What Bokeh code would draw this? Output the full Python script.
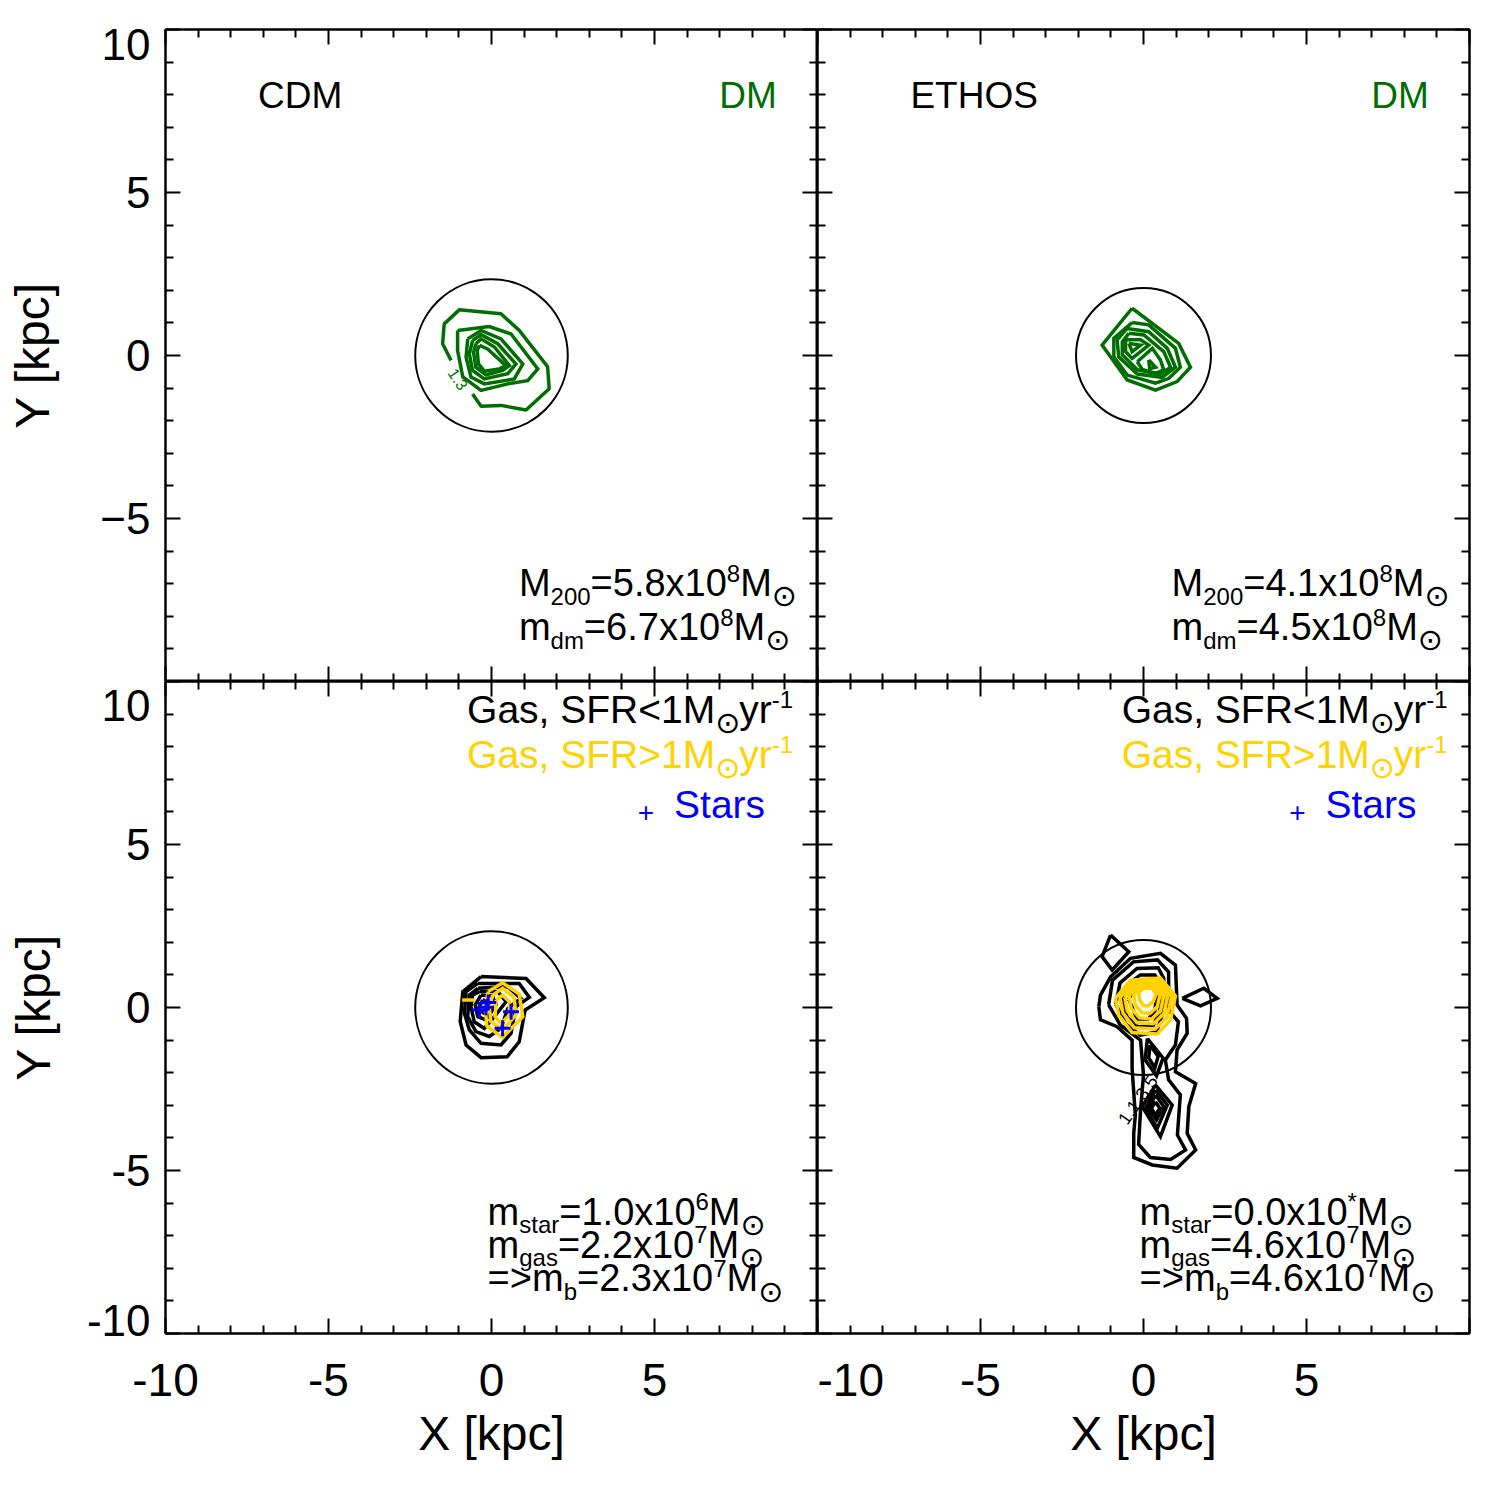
from bokeh.plotting import figure
from bokeh.layouts import gridplot
from bokeh.models import LinearAxis, FixedTicker, Label
from bokeh.embed import file_html
from bokeh.resources import INLINE

FONT = "Liberation Sans"
SUN_FONT = "DejaVu Sans"
GREEN = "#006e00"
GOLD = "#ffd200"
BLUE = "#0000ff"

# ---------------------------------------------------------------- data (kpc)
major_ticks = [-10, -5, 0, 5, 10]
minor_ticks = [-9, -8, -7, -6, -4, -3, -2, -1, 1, 2, 3, 4, 6, 7, 8, 9]

# y tick labels; the end labels are tucked inside the panel edges
top_ylabel_pos = [9.54, 5, 0, -5]
top_ylabel_txt = ["10", "5", "0", "\u22125"]
bot_ylabel_pos = [9.27, 5, 0, -5, -9.6]
bot_ylabel_txt = ["10", "5", "0", "-5", "-10"]
xlabel_pos = [-10, -5, 0, 5]
xlabel_txt = ["-10", "-5", "0", "5"]

# virial radii drawn as circles around the halo centre
r_cdm = 2.34
r_ethos = 2.07

# CDM dark-matter contours (outermost level is open where its label sits)
cdm_dm_open = [[(-0.58, -1.18), (-0.32, -1.56), (0.29, -1.53), (1.06, -1.67), (1.77, -1.02),
                (1.72, -0.34), (0.85, 0.77), (0.29, 1.28), (-0.99, 1.40), (-1.45, 0.97),
                (-1.50, 0.36), (-1.24, -0.15)]]
cdm_dm_closed = [
    [(-1.04, 0.77), (-0.07, 0.89), (0.60, 0.66), (1.42, -0.41), (1.11, -0.77), (0.50, -0.87),
     (-0.32, -1.07), (-0.88, -0.66), (-1.04, 0.15)],
    [(-0.73, 0.51), (-0.32, 0.77), (0.29, 0.51), (0.96, -0.26), (0.70, -0.72), (-0.22, -0.87),
     (-0.63, -0.66), (-0.78, -0.05)],
    [(-0.58, 0.46), (-0.32, 0.64), (0.19, 0.36), (0.75, -0.26), (0.50, -0.56), (-0.22, -0.72),
     (-0.58, -0.46), (-0.68, 0.05)],
    [(-0.48, 0.36), (-0.32, 0.51), (0.09, 0.26), (0.55, -0.31), (0.34, -0.46), (-0.17, -0.59),
     (-0.48, -0.36), (-0.55, 0.10)],
    [(-0.37, 0.31), (-0.12, 0.20), (0.44, -0.31), (0.24, -0.41), (-0.22, -0.48), (-0.40, -0.26),
     (-0.44, 0.15)],
]

# ETHOS dark-matter contours
ethos_dm_closed = [
    [(-0.35, 1.45), (1.08, 0.37), (1.44, -0.36), (1.03, -0.80), (0.37, -1.06), (-0.50, -0.75),
     (-1.27, 0.32)],
    [(-0.35, 1.01), (0.16, 0.94), (0.98, 0.22), (1.13, -0.36), (0.78, -0.70), (0.37, -0.85),
     (-0.50, -0.60), (-0.91, -0.04), (-0.91, 0.53)],
    [(-0.50, 0.83), (0.16, 0.73), (0.73, 0.22), (0.98, -0.36), (0.57, -0.67), (-0.19, -0.57),
     (-0.76, -0.04), (-0.81, 0.48)],
    [(-0.45, 0.68), (0.01, 0.63), (0.62, 0.12), (0.83, -0.36), (0.52, -0.57), (-0.19, -0.44),
     (-0.65, 0.02), (-0.65, 0.42)],
    [(-0.55, 0.48), (-0.09, 0.48), (0.16, 0.32), (-0.35, -0.09), (-0.55, 0.12)],
    [(-0.19, -0.19), (0.27, 0.22), (0.52, -0.14), (0.62, -0.44), (0.37, -0.55), (-0.04, -0.43)],
    [(-0.45, 0.37), (-0.09, 0.32), (-0.35, 0.12)],
    [(0.16, -0.14), (0.37, -0.36), (0.19, -0.40)],
]

# CDM gas contours, SFR < 1 (black) and SFR > 1 (gold)
cdm_gas_cold = [
    [(-0.32, 0.95), (1.06, 0.89), (1.62, 0.30), (1.03, -0.08), (0.85, -1.05), (0.48, -1.51),
     (-0.32, -1.54), (-0.78, -1.15), (-0.96, -0.43), (-0.88, 0.49)],
    [(-0.42, 0.74), (0.85, 0.74), (1.16, 0.31), (0.75, 0.03), (0.60, -0.79), (0.29, -1.15),
     (-0.32, -1.10), (-0.68, -0.69), (-0.83, -0.18), (-0.78, 0.49)],
    [(-0.42, 0.59), (0.50, 0.64), (0.90, 0.28), (0.50, -0.03), (0.29, -0.64), (-0.07, -0.89),
     (-0.48, -0.74), (-0.73, -0.28), (-0.68, 0.38)],
    [(-0.37, 0.49), (0.19, 0.49), (0.45, 0.18), (0.09, -0.28), (-0.22, -0.64), (-0.53, -0.44),
     (-0.63, 0.03), (-0.58, 0.38)],
    [(-0.32, 0.38), (0.03, 0.35), (0.14, 0.08), (-0.17, -0.38), (-0.42, -0.28), (-0.50, 0.08)],
    [(-0.27, 0.23), (-0.07, 0.18), (-0.22, -0.18), (-0.41, -0.06)],
]
cdm_gas_sf = [
    [(-0.10, 0.49), (0.34, 0.76), (0.85, 0.41), (0.96, -0.28), (0.34, -0.92), (-0.14, -0.57),
     (-0.20, 0.03)],
    [(0.04, 0.38), (0.34, 0.59), (0.69, 0.31), (0.75, -0.23), (0.34, -0.69), (-0.02, -0.43),
     (-0.07, 0.03)],
    [(0.14, 0.23), (0.34, 0.38), (0.55, 0.18), (0.55, -0.23), (0.29, -0.49), (0.11, -0.28)],
]
cdm_gas_sf_open = [[(-0.90, 0.23), (-0.51, 0.23)]]

# CDM star particles
star_x = [-0.37, -0.17, -0.10, 0.60, 0.34]
star_y = [-0.08, 0.01, 0.15, -0.13, -0.64]

# ETHOS gas contours, SFR < 1 (black) and SFR > 1 (gold)
ethos_gas_cold = [
    [(-1.37, 0.02), (-1.32, 0.38), (-1.01, 0.94), (-0.40, 1.51), (0.52, 1.66), (0.98, 1.30),
     (1.03, 0.08), (1.32, -0.33), (1.34, -0.79), (1.03, -1.30), (0.98, -1.97), (1.60, -2.33),
     (1.39, -3.04), (1.34, -3.86), (1.60, -4.37), (1.03, -4.93), (0.27, -4.83), (-0.30, -4.60),
     (-0.30, -3.86), (-0.25, -3.30), (-0.35, -1.87), (-0.35, -1.00), (-0.81, -0.59),
     (-1.32, -0.38)],
    [(-1.07, 0.08), (-0.95, 0.84), (-0.31, 1.40), (0.43, 1.46), (0.77, 1.09), (0.77, -0.08),
     (1.07, -0.44), (0.98, -1.15), (0.67, -1.61), (0.77, -2.22), (1.13, -2.68), (1.04, -3.91),
     (1.29, -4.37), (0.83, -4.66), (0.21, -4.60), (-0.15, -4.20), (-0.09, -3.14), (0.00, -2.07),
     (-0.09, -1.00), (-0.71, -0.54)],
    [(-0.85, 0.10), (-0.72, 0.75), (-0.20, 1.20), (0.45, 1.22), (0.62, 0.90), (0.62, -0.10),
     (0.40, -0.75), (-0.10, -0.85), (-0.55, -0.50)],
    [(-0.65, 0.20), (-0.50, 0.70), (-0.10, 1.00), (0.35, 1.00), (0.50, 0.70), (0.50, -0.10),
     (0.30, -0.55), (-0.15, -0.60), (-0.50, -0.30)],
    [(-0.45, 0.25), (-0.30, 0.60), (0.00, 0.80), (0.30, 0.75), (0.40, 0.40), (0.35, -0.10),
     (0.15, -0.35), (-0.20, -0.35)],
    [(0.12, -0.95), (0.60, -1.55), (0.40, -2.10), (0.05, -1.60)],
    [(0.20, -1.15), (0.45, -1.50), (0.35, -1.85), (0.16, -1.55)],
    [(0.37, -2.38), (0.88, -2.99), (0.52, -3.96), (-0.04, -3.04)],
    [(0.37, -2.53), (0.73, -2.99), (0.42, -3.71), (0.06, -3.09)],
    [(0.37, -2.68), (0.62, -3.04), (0.40, -3.45), (0.16, -3.09)],
    [(0.37, -2.89), (0.50, -3.09), (0.37, -3.30), (0.24, -3.09)],
    [(-1.01, 2.22), (-0.45, 1.71), (-0.96, 1.15), (-1.27, 1.56)],
    [(1.19, 0.28), (1.85, 0.59), (2.26, 0.28), (1.75, 0.05)],
]
ethos_gas_sf = [
    [(-0.86, 0.28), (-0.40, 0.84), (0.52, 0.90), (0.98, 0.35), (0.83, -0.38), (0.42, -0.81),
     (-0.35, -0.77), (-0.76, -0.23)],
    [(-0.72, 0.30), (-0.33, 0.78), (0.48, 0.82), (0.86, 0.33), (0.72, -0.30), (0.36, -0.66),
     (-0.28, -0.62), (-0.63, -0.17)],
    [(-0.58, 0.32), (-0.25, 0.72), (0.44, 0.74), (0.74, 0.33), (0.62, -0.20), (0.30, -0.50),
     (-0.20, -0.47), (-0.50, -0.10)],
    [(-0.44, 0.36), (-0.17, 0.68), (0.40, 0.68), (0.62, 0.34), (0.52, -0.10), (0.25, -0.35),
     (-0.12, -0.32), (-0.38, -0.02)],
    [(-0.30, 0.40), (-0.08, 0.64), (0.34, 0.63), (0.50, 0.36), (0.42, 0.02), (0.20, -0.18),
     (-0.05, -0.16), (-0.25, 0.08)],
    [(-0.15, 0.45), (0.00, 0.60), (0.28, 0.58), (0.38, 0.40), (0.30, 0.18), (0.14, 0.05),
     (0.00, 0.06), (-0.12, 0.22)],
]

# halo properties printed in each panel
cdm_m200, cdm_mdm = "5.8", "6.7"
ethos_m200, ethos_mdm = "4.1", "4.5"
cdm_mstar, cdm_mgas, cdm_mb = ("1.0", "6"), ("2.2", "7"), ("2.3", "7")
ethos_mstar, ethos_mgas, ethos_mb = ("0.0", "*"), ("4.6", "7"), ("4.6", "7")

# ---------------------------------------------------------------- helpers
ADV = {c: 0.556 for c in "0123456789"}
ADV.update({".": 0.278, ",": 0.278, " ": 0.278, "=": 0.584, "<": 0.584, ">": 0.584,
            "+": 0.584, "-": 0.333, "*": 0.389, "x": 0.5, "M": 0.833, "m": 0.833,
            "d": 0.556, "s": 0.5, "t": 0.278, "a": 0.556, "r": 0.333, "g": 0.556,
            "b": 0.556, "y": 0.5, "G": 0.778, "S": 0.667, "F": 0.611, "R": 0.722})
SMALL = 24
SUN = 30


def base_shift(fs):
    # raise a label so that its alphabetic baseline sits on the anchor
    return 0.35 * fs


def rich_text(p, x, y, runs, size, color):
    """Lay out a line made of normal / sub / sup / solar-symbol runs."""
    off = 0.0
    for txt, kind in runs:
        if kind == "n":
            fs, dy, font = size, 0, FONT
        elif kind == "sub":
            fs, dy, font = SMALL, -8, FONT
        elif kind == "sup":
            fs, dy, font = SMALL, 15, FONT
        else:
            fs, dy, font = SUN, -10, SUN_FONT
        p.add_layout(Label(x=x, y=y, x_offset=off, y_offset=dy + base_shift(fs), text=txt,
                           text_font=font, text_font_size=f"{fs}px", text_color=color,
                           text_baseline="alphabetic", text_align="left"))
        if kind == "sun":
            off += 0.8 * fs
        else:
            off += sum(ADV.get(c, 0.556) for c in txt) * fs


def closed(polys):
    xs = [[v[0] for v in poly] + [poly[0][0]] for poly in polys]
    ys = [[v[1] for v in poly] + [poly[0][1]] for poly in polys]
    return xs, ys


def opened(polys):
    return [[v[0] for v in poly] for poly in polys], [[v[1] for v in poly] for poly in polys]


def tick_axis():
    """Box side with inward major/minor ticks and no labels."""
    ax = LinearAxis(ticker=FixedTicker(ticks=major_ticks, minor_ticks=minor_ticks))
    ax.major_tick_in = 15
    ax.major_tick_out = 0
    ax.minor_tick_in = 8
    ax.minor_tick_out = 0
    ax.axis_line_width = 2
    ax.major_tick_line_width = 2
    ax.minor_tick_line_width = 2
    ax.major_label_text_font_size = "0px"
    ax.major_label_standoff = 0
    ax.major_label_overrides = {t: "" for t in major_ticks}
    return ax


def label_axis(pos, txt, title, label_size, standoff, title_standoff):
    """Axis carrying only tick labels and the axis title."""
    ax = LinearAxis(ticker=FixedTicker(ticks=pos, minor_ticks=[]))
    ax.major_tick_in = 0
    ax.major_tick_out = 0
    ax.minor_tick_in = 0
    ax.minor_tick_out = 0
    ax.axis_line_color = None
    ax.major_tick_line_color = None
    ax.minor_tick_line_color = None
    ax.major_label_overrides = dict(zip(pos, txt))
    ax.major_label_text_font = FONT
    ax.major_label_text_font_size = label_size
    ax.major_label_text_color = "black"
    ax.major_label_standoff = standoff
    ax.axis_label = title
    ax.axis_label_text_font = FONT
    ax.axis_label_text_font_size = "48px"
    ax.axis_label_text_font_style = "normal"
    ax.axis_label_text_color = "black"
    ax.axis_label_standoff = title_standoff
    return ax


def panel(left, right, top, bottom):
    p = figure(frame_width=652, frame_height=652, x_range=(-10, 10), y_range=(-10, 10),
               output_backend="svg", toolbar_location=None,
               x_axis_location=None, y_axis_location=None,
               min_border_left=left, min_border_right=right,
               min_border_top=top, min_border_bottom=bottom)
    p.grid.visible = False
    p.outline_line_color = "black"
    p.outline_line_width = 2
    p.background_fill_color = "white"
    p.border_fill_color = "white"
    return p


# ---------------------------------------------------------------- panels
p1 = panel(165, 0, 29, 0)
p2 = panel(0, 31, 29, 0)
p3 = panel(165, 0, 0, 167)
p4 = panel(0, 31, 0, 167)

for p in (p1, p2, p3, p4):
    for side in ("left", "below", "above", "right"):
        p.add_layout(tick_axis(), side)

p1.add_layout(label_axis(top_ylabel_pos, top_ylabel_txt, "Y [kpc]", "44px", 15, 38), "left")
p3.add_layout(label_axis(bot_ylabel_pos, bot_ylabel_txt, "Y [kpc]", "44px", 15, 24), "left")
p3.add_layout(label_axis(xlabel_pos, xlabel_txt, "X [kpc]", "46px", 30, 8), "below")
p4.add_layout(label_axis(xlabel_pos, xlabel_txt, "X [kpc]", "46px", 30, 8), "below")

# circles
for p, r in ((p1, r_cdm), (p2, r_ethos), (p3, r_cdm), (p4, r_ethos)):
    p.circle(x=[0], y=[0], radius=[r], fill_color=None, line_color="black", line_width=2)

LW = 3.5

# dark matter
xs, ys = opened(cdm_dm_open)
p1.multi_line(xs, ys, line_color=GREEN, line_width=LW)
xs, ys = closed(cdm_dm_closed)
p1.multi_line(xs, ys, line_color=GREEN, line_width=LW, line_join="miter")
p1.add_layout(Label(x=-1.02, y=-0.72, text="1.3", angle=-0.98, text_font=FONT,
                    text_font_size="16px", text_color=GREEN, text_align="center",
                    text_baseline="middle"))
xs, ys = closed(ethos_dm_closed)
p2.multi_line(xs, ys, line_color=GREEN, line_width=LW, line_join="miter")

# gas and stars
xs, ys = closed(cdm_gas_cold)
p3.multi_line(xs, ys, line_color="black", line_width=LW, line_join="miter")
xs, ys = closed(cdm_gas_sf)
p3.multi_line(xs, ys, line_color=GOLD, line_width=LW, line_join="miter")
xs, ys = opened(cdm_gas_sf_open)
p3.multi_line(xs, ys, line_color=GOLD, line_width=LW)
p3.scatter(star_x, star_y, marker="cross", size=16, line_color=BLUE, line_width=3)

xs, ys = closed(ethos_gas_cold)
p4.multi_line(xs, ys, line_color="black", line_width=LW, line_join="miter")
xs, ys = closed(ethos_gas_sf)
p4.multi_line(xs, ys, line_color=GOLD, line_width=LW, line_join="miter")
p4.add_layout(Label(x=-0.18, y=-2.83, text="1.1.3.5", angle=0.96, text_font=FONT,
                    text_font_size="18px", text_color="black", text_align="center",
                    text_baseline="middle"))

# ---------------------------------------------------------------- annotations
for p, name, x0 in ((p1, "CDM", -7.16), (p2, "ETHOS", -7.15)):
    p.add_layout(Label(x=x0, y=7.58, y_offset=base_shift(37), text=name, text_font=FONT,
                       text_font_size="37px", text_color="black", text_baseline="alphabetic"))
    p.add_layout(Label(x=8.75, y=7.58, y_offset=base_shift(37), text="DM", text_font=FONT,
                       text_font_size="37px", text_color=GREEN, text_align="right",
                       text_baseline="alphabetic"))

for p, x0, m200, mdm in ((p1, 0.84, cdm_m200, cdm_mdm), (p2, 0.86, ethos_m200, ethos_mdm)):
    rich_text(p, x0, -7.39, [("M", "n"), ("200", "sub"), (f"={m200}x10", "n"), ("8", "sup"),
                             ("M", "n"), ("\u2299", "sun")], 38, "black")
    rich_text(p, x0, -8.74, [("m", "n"), ("dm", "sub"), (f"={mdm}x10", "n"), ("8", "sup"),
                             ("M", "n"), ("\u2299", "sun")], 38, "black")

for p, x0, plus_x, stars_x in ((p3, -0.75, 4.74, 5.60), (p4, -0.67, 4.72, 5.58)):
    rich_text(p, x0, 8.72, [("Gas, SFR<1M", "n"), ("\u2299", "sun"), ("yr", "n"), ("-1", "sup")],
              39, "black")
    rich_text(p, x0, 7.34, [("Gas, SFR>1M", "n"), ("\u2299", "sun"), ("yr", "n"), ("-1", "sup")],
              39, GOLD)
    p.add_layout(Label(x=plus_x, y=5.97, text="+", text_font=FONT, text_font_size="28px",
                       text_color=BLUE, text_align="center", text_baseline="middle"))
    p.add_layout(Label(x=stars_x, y=5.80, y_offset=base_shift(39), text="Stars", text_font=FONT,
                       text_font_size="39px", text_color=BLUE, text_baseline="alphabetic"))

for p, ms, mg, mb in ((p3, cdm_mstar, cdm_mgas, cdm_mb), (p4, ethos_mstar, ethos_mgas, ethos_mb)):
    rich_text(p, -0.12, -6.67, [("m", "n"), ("star", "sub"), (f"={ms[0]}x10", "n"),
                                (ms[1], "sup"), ("M", "n"), ("\u2299", "sun")], 38, "black")
    rich_text(p, -0.12, -7.69, [("m", "n"), ("gas", "sub"), (f"={mg[0]}x10", "n"),
                                (mg[1], "sup"), ("M", "n"), ("\u2299", "sun")], 38, "black")
    rich_text(p, -0.12, -8.72, [("=>m", "n"), ("b", "sub"), (f"={mb[0]}x10", "n"),
                                (mb[1], "sup"), ("M", "n"), ("\u2299", "sun")], 38, "black")

grid = gridplot([[p1, p2], [p3, p4]], toolbar_location=None)
open("out.html", "w").write(file_html(grid, INLINE))
